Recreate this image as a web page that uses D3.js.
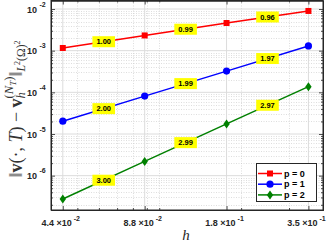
<!DOCTYPE html>
<html><head><meta charset="utf-8">
<script src="https://cdn.jsdelivr.net/npm/d3@7/dist/d3.min.js"></script>
<style>body{margin:0;background:#fff}svg{display:block}</style>
</head><body>
<svg id="c" width="332" height="243"></svg>
<script>
// ---- data ----
const hValues = [0.0442, 0.0884, 0.1768, 0.3536];
const errP0 = [1.16e-3, 2.32e-3, 4.61e-3, 8.98e-3];
const errP1 = [2.03e-5, 8.12e-5, 3.23e-4, 1.30e-3];
const errP2 = [2.75e-7, 2.20e-6, 1.75e-5, 1.37e-4];
const rateP0 = ["1.00", "0.99", "0.96"];
const rateP1 = ["2.00", "1.99", "1.97"];
const rateP2 = ["3.00", "2.99", "2.97"];
const seriesNames = ["p = 0", "p = 1", "p = 2"];
const xTickValues = [0.0442, 0.0884, 0.1768, 0.3536];
const xTickMantissa = ["4.4", "8.8", "1.8", "3.5"];
const xTickExponent = ["-2", "-2", "-1", "-1"];
const yTickValues = [1e-6, 1e-5, 1e-4, 1e-3, 1e-2];
const yTickExponent = ["-6", "-5", "-4", "-3", "-2"];

// ---- layout ----
const L = 51, R = 323, T = 0.5, B = 210;
const svg = d3.select("#c");
const x = d3.scaleLog().domain([0.04, 0.4]).range([L, R]);
const y = d3.scaleLog().domain([1.5e-7, 1.6e-2]).range([B, T]);
const axisColor = "#262626";

svg.append("rect").attr("width", 332).attr("height", 243).attr("fill", "#fff");
svg.append("defs").append("clipPath").attr("id", "clip")
  .append("rect").attr("x", L).attr("y", T).attr("width", R - L).attr("height", B - T);

// minor positions
const xMinor = [], yMinor = [];
for (let k = -2; k <= -1; k++) for (let m = 1; m <= 9; m++) {
  const v = m * Math.pow(10, k);
  if (v >= 0.04 && v <= 0.4) xMinor.push(v);
}
for (let k = -7; k <= -2; k++) for (let m = 2; m <= 9; m++) {
  const v = m * Math.pow(10, k);
  if (v >= 1.5e-7 && v <= 1.6e-2) yMinor.push(v);
}

const grid = svg.append("g").attr("clip-path", "url(#clip)");
grid.selectAll(".xm").data(xMinor).join("line")
  .attr("x1", d => Math.round(x(d)) + 0.5).attr("x2", d => Math.round(x(d)) + 0.5)
  .attr("y1", T).attr("y2", B)
  .attr("stroke", "#c8c8c8").attr("stroke-width", 0.6).attr("stroke-dasharray", "1,1.5");
grid.selectAll(".ym").data(yMinor).join("line")
  .attr("y1", d => Math.round(y(d)) + 0.5).attr("y2", d => Math.round(y(d)) + 0.5)
  .attr("x1", L).attr("x2", R)
  .attr("stroke", "#c8c8c8").attr("stroke-width", 0.6).attr("stroke-dasharray", "1,1.5");
grid.selectAll(".xM").data(xTickValues).join("line")
  .attr("x1", d => x(d)).attr("x2", d => x(d)).attr("y1", T).attr("y2", B)
  .attr("stroke", "#dcdcdc").attr("stroke-width", 1);
grid.selectAll(".yM").data(yTickValues).join("line")
  .attr("y1", d => y(d)).attr("y2", d => y(d)).attr("x1", L).attr("x2", R)
  .attr("stroke", "#dcdcdc").attr("stroke-width", 1);

// axes via d3 axis (inward ticks)
const fontTick = "'Liberation Sans', Arial, sans-serif";
function styleAxis(g) {
  g.selectAll("path").attr("stroke", axisColor).attr("stroke-width", 1);
  g.selectAll("line").attr("stroke", axisColor).attr("stroke-width", 0.8);
  g.selectAll("text").remove();
}
svg.append("g").attr("transform", `translate(0,${B})`)
  .call(d3.axisBottom(x).tickValues(xTickValues).tickSizeInner(-4).tickSizeOuter(0)).call(styleAxis);
svg.append("g").attr("transform", `translate(0,${T})`)
  .call(d3.axisTop(x).tickValues(xTickValues).tickSizeInner(-4).tickSizeOuter(0)).call(styleAxis);
svg.append("g").attr("transform", `translate(0,${B})`)
  .call(d3.axisBottom(x).tickValues(xMinor).tickSizeInner(-2).tickSizeOuter(0)).call(styleAxis);
svg.append("g").attr("transform", `translate(0,${T})`)
  .call(d3.axisTop(x).tickValues(xMinor).tickSizeInner(-2).tickSizeOuter(0)).call(styleAxis);
svg.append("g").attr("transform", `translate(${L},0)`)
  .call(d3.axisLeft(y).tickValues(yTickValues).tickSizeInner(-4).tickSizeOuter(0)).call(styleAxis);
svg.append("g").attr("transform", `translate(${R},0)`)
  .call(d3.axisRight(y).tickValues(yTickValues).tickSizeInner(-4).tickSizeOuter(0)).call(styleAxis);
svg.append("g").attr("transform", `translate(${L},0)`)
  .call(d3.axisLeft(y).tickValues(yMinor).tickSizeInner(-2).tickSizeOuter(0)).call(styleAxis);
svg.append("g").attr("transform", `translate(${R},0)`)
  .call(d3.axisRight(y).tickValues(yMinor).tickSizeInner(-2).tickSizeOuter(0)).call(styleAxis);
svg.append("rect").attr("x", L).attr("y", T).attr("width", R - L).attr("height", B - T)
  .attr("fill", "none").attr("stroke", axisColor).attr("stroke-width", 1);

// tick labels
const yl = svg.append("g").attr("font-family", fontTick).attr("font-weight", "bold").attr("fill", axisColor);
yTickValues.forEach((v, i) => {
  yl.append("text").attr("x", 37).attr("y", y(v) + 3.5).attr("text-anchor", "end")
    .attr("font-size", 9).text("10");
  yl.append("text").attr("x", 39.5).attr("y", y(v) - 2.5).attr("font-size", 7).text(yTickExponent[i]);
});
const xl = svg.append("g").attr("font-family", fontTick).attr("font-weight", "bold").attr("fill", axisColor);
xTickValues.forEach((v, i) => {
  const t = xl.append("text").attr("x", x(v) - 2).attr("y", 226).attr("text-anchor", "middle").attr("font-size", 9);
  t.append("tspan").text(xTickMantissa[i] + "  \u00d710");
  t.append("tspan").attr("dy", -5).attr("font-size", 7).text(" " + xTickExponent[i]);
});

// axis labels
svg.append("text").attr("x", 186).attr("y", 240).attr("text-anchor", "middle")
  .attr("font-family", "'Liberation Serif', serif").attr("font-style", "italic")
  .attr("font-size", 15).attr("fill", axisColor).text("h");

const ylab = svg.append("g").attr("fill", "#333").attr("font-family", "'Liberation Serif', serif");
const F = 18;
const pieces = [
  {t: "\u2016", s: F},
  {t: "v", s: F, w: "bold"},
  {t: "(\u00b7, ", s: F},
  {t: "T", s: F, i: 1},
  {t: ")", s: F},
  {t: " \u2212 ", s: F},
  {t: "v", s: F, w: "bold"},
  {t: "h", s: F * 0.7, i: 1, dy: 3, noadv: 1},
  {t: "(", s: F * 0.7, dy: -9},
  {t: "N", s: F * 0.7, i: 1, dy: -9},
  {t: "T", s: F * 0.5, i: 1, dy: -6},
  {t: ")", s: F * 0.7, dy: -9},
  {t: "\u2016", s: F},
  {t: "L", s: F * 0.65, i: 1, dy: 3},
  {t: "2", s: F * 0.45, dy: -2},
  {t: "(\u03a9)", s: F * 0.65, dy: 3},
  {t: "2", s: F * 0.45, dy: -2}
];
const inner = ylab.append("g");
let cx = 0;
pieces.forEach(p => {
  const t = inner.append("text").attr("x", cx).attr("y", p.dy || 0)
    .attr("font-size", p.s).attr("font-weight", p.w || "normal")
    .attr("font-style", p.i ? "italic" : "normal")
    .style("white-space", "pre").text(p.t);
  const w = t.node().getComputedTextLength();
  if (!p.noadv) cx += w;
});
inner.attr("transform", `translate(${-cx / 2},0)`);
ylab.attr("transform", "translate(22,109) rotate(-90)");

// series
const series = [
  {vals: errP0, rates: rateP0, color: "#ff0000", marker: "square"},
  {vals: errP1, rates: rateP1, color: "#0000ff", marker: "circle"},
  {vals: errP2, rates: rateP2, color: "#008000", marker: "diamond"}
];
function drawMarker(g, type, cxp, cyp, color) {
  if (type === "square") g.append("rect").attr("x", cxp - 3).attr("y", cyp - 3).attr("width", 6).attr("height", 6).attr("fill", color);
  else if (type === "circle") g.append("circle").attr("cx", cxp).attr("cy", cyp).attr("r", 3.6).attr("fill", color);
  else g.append("path").attr("d", `M${cxp},${cyp - 4.5}L${cxp + 3.2},${cyp}L${cxp},${cyp + 4.5}L${cxp - 3.2},${cyp}Z`).attr("fill", color);
}
const line = d3.line().x(d => x(d[0])).y(d => y(d[1]));
const plot = svg.append("g");
series.forEach(s => {
  const pts = hValues.map((h, i) => [h, s.vals[i]]);
  plot.append("path").attr("d", line(pts)).attr("fill", "none").attr("stroke", s.color).attr("stroke-width", 1.5);
  pts.forEach(p => drawMarker(plot, s.marker, x(p[0]), y(p[1]), s.color));
});
// rate labels
const lab = svg.append("g").attr("font-family", fontTick).attr("font-weight", "bold");
series.forEach(s => {
  s.rates.forEach((r, i) => {
    const mx = x(Math.sqrt(hValues[i] * hValues[i + 1]));
    const my = y(Math.sqrt(s.vals[i] * s.vals[i + 1]));
    const rect = lab.append("rect").attr("fill", "#ffff00");
    const t = lab.append("text").attr("x", mx).attr("y", my + 2.7).attr("text-anchor", "middle")
      .attr("font-size", 7.5).attr("fill", "#000").text(r);
    const w = t.node().getComputedTextLength() + 8;
    rect.attr("x", mx - w / 2).attr("y", my - 5.5).attr("width", w).attr("height", 11);
  });
});

// legend
const lg = svg.append("g");
lg.append("rect").attr("x", 256.5).attr("y", 163.5).attr("width", 60).attr("height", 38)
  .attr("fill", "#fff").attr("stroke", axisColor).attr("stroke-width", 1);
series.forEach((s, i) => {
  const ly = 173.5 + i * 10.7;
  lg.append("line").attr("x1", 258).attr("x2", 282).attr("y1", ly).attr("y2", ly)
    .attr("stroke", s.color).attr("stroke-width", 1.5);
  drawMarker(lg, s.marker, 270, ly, s.color);
  lg.append("text").attr("x", 284).attr("y", ly + 3.2).attr("font-family", fontTick)
    .attr("font-weight", "bold").attr("font-size", 9).attr("fill", "#000").text(seriesNames[i]);
});
</script>
</body></html>
